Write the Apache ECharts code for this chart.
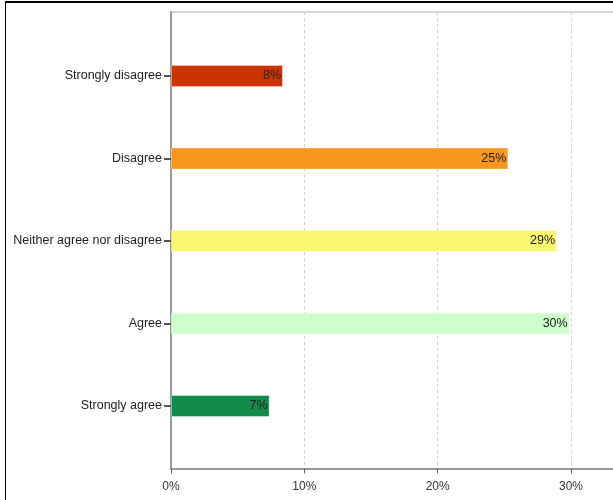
<!DOCTYPE html>
<html><head><meta charset="utf-8">
<script src="https://cdn.jsdelivr.net/npm/echarts@6/dist/echarts.min.js"></script>
<style>html,body{margin:0;padding:0;background:#fff}#c{width:613px;height:500px}</style>
</head><body><div id="c"></div>
<script>
const categories = ['Strongly disagree', 'Disagree', 'Neither agree nor disagree', 'Agree', 'Strongly agree'];
const values = [8.4, 25.3, 28.95, 29.9, 7.4];
const colors = ['#CC3300', '#F7971E', '#F9F772', '#CCFFCC', '#138B49'];
const xTicks = [0, 10, 20, 30];

const FONT = 'Liberation Sans, Arial, sans-serif';
const chart = echarts.init(document.getElementById('c'), null, {renderer: 'canvas'});
const gridLeft = 171, gridWidth = 466.67;

chart.setOption({
  animation: false,
  backgroundColor: '#fff',
  graphic: [
    {type: 'line', shape: {x1: 5, y1: 2, x2: 613, y2: 2}, style: {stroke: '#000', lineWidth: 2}, silent: true},
    {type: 'line', shape: {x1: 5.5, y1: 1, x2: 5.5, y2: 500}, style: {stroke: '#000', lineWidth: 1}, silent: true}
  ],
  grid: [
    {left: gridLeft, width: gridWidth, top: 12, bottom: 31.5, show: true, borderColor: '#b0b0b0', borderWidth: 1,
     backgroundColor: 'transparent', outerBoundsMode: 'none', containLabel: false},
    {left: gridLeft, width: gridWidth, top: 34.75, height: 412.5, outerBoundsMode: 'none', containLabel: false}
  ],
  xAxis: [
    {
      gridIndex: 0, type: 'value', min: 0, max: 35, interval: 10,
      axisLine: {show: true, lineStyle: {color: '#999', width: 2}},
      axisTick: {show: true, length: 5, lineStyle: {color: '#666', width: 1}},
      axisLabel: {
        margin: 12, fontSize: 12, fontFamily: FONT, color: '#333',
        formatter: v => xTicks.indexOf(v) >= 0 ? v + '%' : ''
      },
      splitLine: {show: true, lineStyle: {color: '#d0d0d0', type: [3, 3], width: 1}}
    },
    {
      gridIndex: 1, type: 'value', min: 0, max: 35, interval: 10, show: false
    }
  ],
  yAxis: [
    {
      gridIndex: 0, type: 'value', min: 0, max: 1,
      axisLine: {show: true, lineStyle: {color: '#999', width: 2}},
      axisTick: {show: false}, axisLabel: {show: false}, splitLine: {show: false}
    },
    {
      gridIndex: 1, type: 'category', data: categories, inverse: true,
      axisLine: {show: false},
      axisTick: {show: true, alignWithLabel: true, length: 7, lineStyle: {color: '#555', width: 2}},
      axisLabel: {margin: 9, fontSize: 12.5, fontFamily: FONT, color: '#222'},
      splitLine: {show: false}
    }
  ],
  series: [{
    type: 'bar', xAxisIndex: 1, yAxisIndex: 1, barWidth: 22,
    data: values.map((v, i) => ({value: v, itemStyle: {color: colors[i], borderColor: 'rgba(255,255,255,0.35)', borderWidth: 1}})),
    label: {
      show: true, position: 'insideRight', distance: 2,
      fontSize: 12.5, fontFamily: FONT, color: '#222',
      formatter: p => Math.round(p.value) + '%'
    }
  }]
});
</script>
</body></html>
